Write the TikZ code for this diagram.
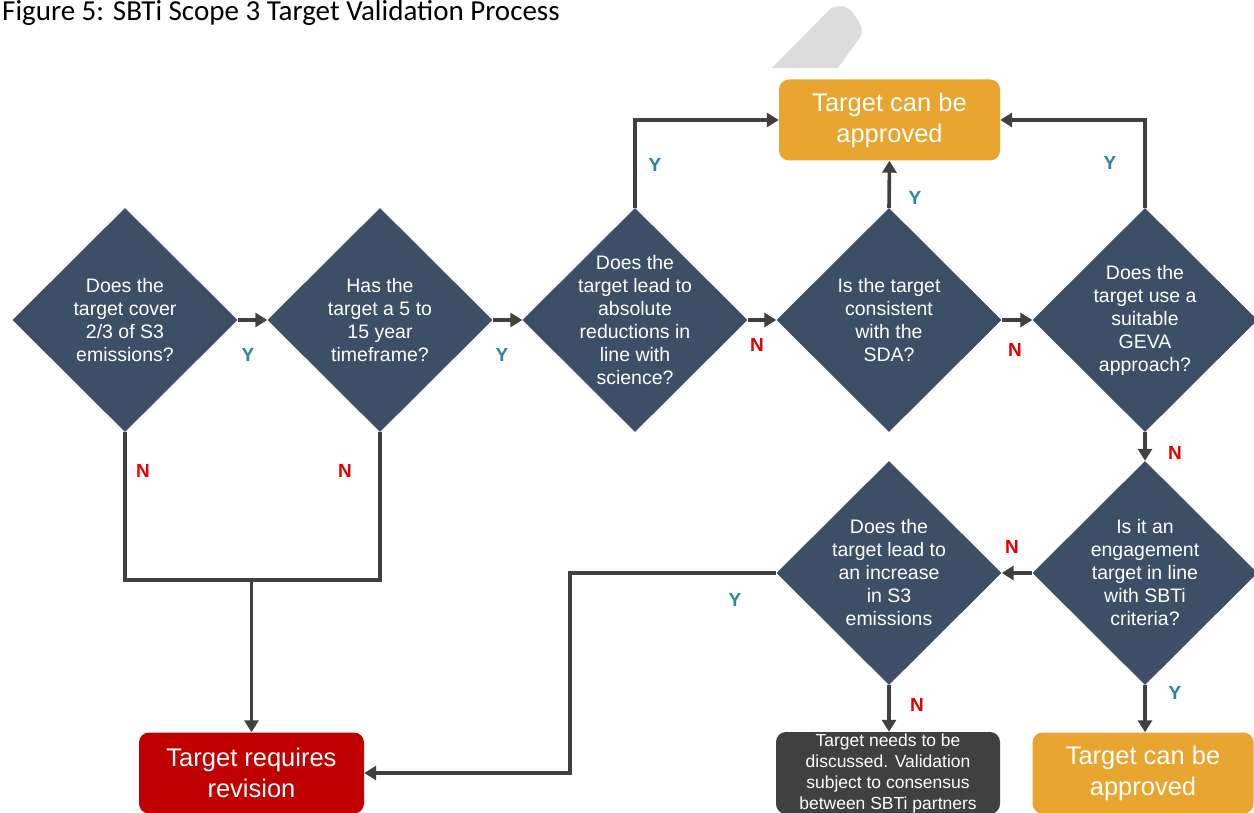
\documentclass[tikz,border=0pt]{standalone}
\usepackage{fontspec}
\setmainfont{Liberation Sans}
\newfontfamily\titlefont{Carlito}
\usetikzlibrary{shapes.geometric,arrows.meta}
\definecolor{diacol}{HTML}{3D4F66}
\definecolor{okcol}{HTML}{E8A530}
\definecolor{revcol}{HTML}{C00000}
\definecolor{disccol}{HTML}{404040}
\definecolor{linecol}{HTML}{404040}
\definecolor{ycol}{HTML}{2A85A3}
\definecolor{ncol}{HTML}{E50000}
\definecolor{wmcol}{HTML}{DCDCDC}
\tikzset{
  dia/.style={diamond, fill=diacol, draw=none, minimum width=225pt, minimum height=224pt, inner sep=0pt},
  dtext/.style={text=white, align=center, font=\fontsize{19.5}{23}\selectfont},
  okbox/.style={fill=okcol, rounded corners=10pt, minimum width=221pt, minimum height=81pt, text=white, align=center, font=\fontsize{25.5}{31}\selectfont, inner sep=0pt},
  revbox/.style={okbox, fill=revcol},
  discbox/.style={fill=disccol, rounded corners=10pt, minimum width=224pt, minimum height=82pt, text=white, align=center, font=\fontsize{17.5}{21}\selectfont, inner sep=0pt},
  conn/.style={draw=linecol, line width=3.6pt},
  arr/.style={conn, -{Triangle[length=12pt,width=14pt]}},
  ylab/.style={text=ycol, font=\bfseries\fontsize{19}{20}\selectfont},
  nlab/.style={text=ncol, font=\bfseries\fontsize{19}{20}\selectfont},
}
\begin{document}
\begin{tikzpicture}[x=1pt,y=-1pt]
\useasboundingbox (0,0) rectangle (1254,813);
\fill[white] (0,0) rectangle (1254,813);
% watermark fragment
\fill[wmcol] (772,68) -- (830,9) .. controls (838,4) and (848,6) .. (853,13) .. controls (858,20) and (864,28) .. (861,36) -- (838,68) -- cycle;
% title
\node[anchor=base west, inner sep=0pt, font=\titlefont\fontsize{29}{32}\selectfont] (title) at (2,21) {Figure 5: SBTi Scope 3 Target Validation Process};
% diamonds
\node[dia] (d1) at (125,320) {};
\node[dia] (d2) at (380,320) {};
\node[dia] (d3) at (635,320) {};
\node[dia] (d4) at (889,320) {};
\node[dia] (d5) at (1145,320) {};
\node[dia] (d6) at (1145,573) {};
\node[dia] (d7) at (889,573) {};
\node[dtext] (t1) at (d1) {Does the\\target cover\\2/3 of S3\\emissions?};
\node[dtext] (t2) at (d2) {Has the\\target a 5 to\\15 year\\timeframe?};
\node[dtext] (t3) at (d3) {Does the\\target lead to\\absolute\\reductions in\\line with\\science?};
\node[dtext] (t4) at (d4) {Is the target\\consistent\\with the\\SDA?};
\node[dtext] (t5) at (d5) {Does the\\target use a\\suitable\\GEVA\\approach?};
\node[dtext] (t6) at (d6) {Is it an\\engagement\\target in line\\with SBTi\\criteria?};
\node[dtext] (t7) at (d7) {Does the\\target lead to\\an increase\\in S3\\emissions};
% boxes
\node[okbox] (top) at (889.5,120) {Target can be\\approved};
\node[okbox] (ok2) at (1143,773) {Target can be\\approved};
\node[revbox, minimum width=225pt] (rev) at (251.5,773) {Target requires\\revision};
\node[discbox] (disc) at (888,773) {Target needs to be\\discussed. Validation\\subject to consensus\\between SBTi partners};
% connectors
\draw[arr] (d1.east) -- (d2.west);
\draw[arr] (d2.east) -- (d3.west);
\draw[arr] (d3.east) -- (d4.west);
\draw[arr] (d4.east) -- (d5.west);
\draw[arr] (d3.north) |- (top.west);
\draw[arr] (d4.north) -- (top.south);
\draw[arr] (d5.north) |- (top.east);
\draw[arr] (d5.south) -- (d6.north);
\draw[arr] (d6.west) -- (d7.east);
\draw[arr] (d6.south) -- (d6.south |- ok2.north);
\draw[arr] (d7.south) -- (d7.south |- disc.north);
\coordinate (j1) at (251.5,580);
\coordinate (j2) at (570,573);
\draw[conn] (d1.south) |- (j1) -| (d2.south);
\draw[arr] (j1) -- (rev.north);
\draw[arr] (d7.west) -- (j2) |- (rev.east);
% labels
\node[ylab] (y1) at (248,355) {Y};
\node[ylab] (y2) at (502,355) {Y};
\node[nlab] (n3) at (757,345) {N};
\node[nlab] (n4) at (1015,350) {N};
\node[ylab] (y3) at (655,165) {Y};
\node[ylab] (y4) at (915,198) {Y};
\node[ylab] (y5) at (1110,163) {Y};
\node[nlab] (n5) at (1175,453) {N};
\node[nlab] (n6) at (1012,547) {N};
\node[ylab] (y6) at (1175,693) {Y};
\node[nlab] (n7) at (917,705) {N};
\node[ylab] (y7) at (735,600) {Y};
\node[nlab] (n1) at (143,471) {N};
\node[nlab] (n2) at (345,471) {N};
\end{tikzpicture}
\end{document}
